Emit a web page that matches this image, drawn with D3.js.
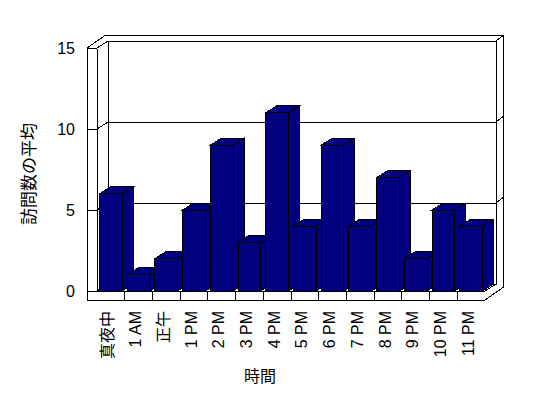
<!DOCTYPE html>
<html>
<head>
<meta charset="utf-8">
<script src="https://cdn.jsdelivr.net/npm/d3@7"></script>
<style>
  body { margin: 0; background: #fff; }
  svg { display: block; }
  text { font-family: "Liberation Sans", Arial, "Noto Sans CJK JP", sans-serif; fill: #000; }
  text.cjk { font-family: "Noto Sans CJK JP", "Liberation Sans", sans-serif; }
</style>
</head>
<body>
<svg id="chart"></svg>
<script>
const categories = ["真夜中", "1 AM", "正午", "1 PM", "2 PM", "3 PM", "4 PM", "5 PM", "6 PM", "7 PM", "8 PM", "9 PM", "10 PM", "11 PM"],
  visits = [6, 1, 2, 5, 9, 3, 11, 4, 9, 4, 7, 2, 5, 4],
  yTicks = [0, 5, 10, 15],
  xTitle = "時間",
  yTitle = "訪問数の平均";

const WIDTH = 548,
  HEIGHT = 398,
  BAR_COLOR = "#000080";

// front plane of the plot, depth offset of the back wall, wall thickness
const X0 = 97, X1 = 485, Y_BOTTOM = 291, Y_TOP = 48,
  DX = 11, DY = -7,          // inner back wall
  ODX = 18, ODY = -12.5,     // outer back edge
  WALL = 10, FLOOR = 9;

const isCjk = s => /[^\x00-\x7f]/.test(s);

const svg = d3.select("#chart")
  .attr("width", WIDTH)
  .attr("height", HEIGHT);

const g = svg.append("g")
  .attr("shape-rendering", "crispEdges");

const x = d3.scaleBand()
  .domain(categories)
  .range([X0, X1])
  .paddingInner(0.18)
  .paddingOuter(0.09);

const y = d3.scaleLinear()
  .domain([0, 15])
  .range([Y_BOTTOM, Y_TOP]);

const line = d3.line();

function poly(points, fill) {
  g.append("path")
    .attr("d", line(points) + "Z")
    .attr("fill", fill)
    .attr("stroke", "#000")
    .attr("stroke-width", 1);
}

function seg(points) {
  g.append("path")
    .attr("d", line(points))
    .attr("fill", "none")
    .attr("stroke", "#000")
    .attr("stroke-width", 1);
}

const yMax = y(15), y0 = y(0);

// back wall
poly([[X0 + DX, yMax + DY], [X1 + DX, yMax + DY], [X1 + DX, y0 + DY], [X0 + DX, y0 + DY]], "#fff");
yTicks.filter(v => v > 0 && v < 15).forEach(v => {
  seg([[X0 + DX, y(v) + DY], [X1 + DX, y(v) + DY]]);
  seg([[X1 + DX, y(v) + DY], [X0 + ODX + (X1 - X0), y(v) + ODY]]);
  seg([[X0, y(v)], [X0 + DX, y(v) + DY]]);
});

// left wall side face + top
seg([[X0, yMax], [X0 + DX, yMax + DY]]);
seg([[X0, y0], [X0 + DX, y0 + DY]]);
seg([[X0 - WALL, yMax], [X0 - WALL + ODX, yMax + ODY], [X1 + ODX, yMax + ODY], [X1 + ODX, y0 + FLOOR + ODY]]);
seg([[X1 + DX, yMax + DY], [X1 + ODX, yMax + ODY]]);

// left wall front face
seg([[X0 - WALL, yMax], [X0, yMax]]);
seg([[X0 - WALL, yMax], [X0 - WALL, y0 + FLOOR]]);

// floor front face
seg([[X0 - WALL, y0 + FLOOR], [X1, y0 + FLOOR], [X1 + ODX, y0 + FLOOR + ODY]]);
seg([[X0 - WALL, y0], [X1, y0], [X1 + DX, y0 + DY]]);
d3.range(1, categories.length).forEach(i => {
  const bx = X0 + i * x.step();
  seg([[bx, y0], [bx, y0 + FLOOR]]);
});

// value axis: ticks run across the left wall front face
const yAxis = svg.append("g")
  .attr("transform", `translate(${X0},0)`)
  .attr("shape-rendering", "crispEdges")
  .call(d3.axisLeft(y).tickValues(yTicks).tickSize(WALL).tickSizeOuter(0).tickPadding(12));
yAxis.selectAll("text").style("font-size", "16px").attr("fill", "#000");
yAxis.selectAll("line, path").attr("stroke", "#000");

// bars, left to right so each covers the side of the one before
categories.forEach((c, i) => {
  const bx = x(c), bw = x.bandwidth(), top = y(visits[i]);
  poly([[bx, top], [bx + DX, top + DY], [bx + bw + DX, top + DY], [bx + bw, top]], BAR_COLOR);
  poly([[bx + bw, top], [bx + bw + DX, top + DY], [bx + bw + DX, y0 + DY], [bx + bw, y0]], BAR_COLOR);
  poly([[bx, top], [bx + bw, top], [bx + bw, y0], [bx, y0]], BAR_COLOR);
});

// category labels, rotated
svg.append("g")
  .selectAll("text")
  .data(categories)
  .enter()
  .append("text")
  .attr("class", d => isCjk(d) ? "cjk" : null)
  .attr("transform", d => `translate(${x(d) + x.bandwidth() / 2 - 3},${y0 + FLOOR + 11}) rotate(-90)`)
  .attr("text-anchor", "end")
  .attr("dy", "0.35em")
  .style("font-size", "16px")
  .text(d => d);

// axis titles
svg.append("text")
  .attr("class", "cjk")
  .attr("x", 260)
  .attr("y", 382)
  .attr("text-anchor", "middle")
  .style("font-size", "16px")
  .text(xTitle);

svg.append("text")
  .attr("class", "cjk")
  .attr("transform", "translate(29,174) rotate(-90)")
  .attr("text-anchor", "middle")
  .attr("dy", "0.35em")
  .style("font-size", "17px")
  .text(yTitle);
</script>
</body>
</html>
